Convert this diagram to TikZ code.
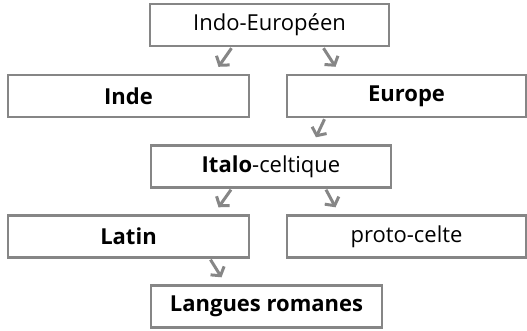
\documentclass[tikz,border=0pt]{standalone}
\usepackage{fontspec}
\setmainfont{Open Sans}
\usetikzlibrary{arrows.meta}

\begin{document}
\begin{tikzpicture}[x=1pt, y=-1pt,
		box/.style={draw=gray!95, line width=2.4pt, fill=white, minimum height=42pt, inner sep=0pt, font=\fontsize{22}{26}\selectfont},
		arr/.style={draw=gray!95, line width=3pt, -{Straight Barb[length=6pt, width=16pt]}}]
		\useasboundingbox (0,0) rectangle (527,331);
		
		\node [box, minimum width=239pt] (ie) at (269.5, 25) {Indo-Européen};
		\node [box, minimum width=241pt] (inde) at (128.5, 96) {\textbf{Inde}};
		\node [box, minimum width=239pt] (europe) at (406.5, 96) {\textbf{Europe}};
		\node [box, minimum width=240pt] (italo) at (271, 166.5) {\textbf{Italo}-celtique};
		\node [box, minimum width=241pt] (latin) at (128.5, 236.5) {\textbf{Latin}};
		\node [box, minimum width=239pt] (celte) at (406.5, 236.5) {proto-celte};
		\node [box, minimum width=231pt] (romanes) at (266.5, 306.5) {\textbf{Langues romanes}};
		
		\draw [arr] ([xshift=-38pt, yshift=-1pt]ie.south) -- ([xshift=90pt, yshift=7pt]inde.north);
		\draw [arr] ([xshift=54pt, yshift=-1pt]ie.south) -- ([xshift=-71pt, yshift=7pt]europe.north);
		\draw [arr] ([xshift=-82pt, yshift=-1pt]europe.south) -- ([xshift=45pt, yshift=7pt]italo.north);
		\draw [arr] ([xshift=-40pt, yshift=-1pt]italo.south) -- ([xshift=90pt, yshift=7pt]latin.north);
		\draw [arr] ([xshift=55pt, yshift=-1pt]italo.south) -- ([xshift=-71pt, yshift=7pt]celte.north);
		\draw [arr] ([xshift=82pt, yshift=-1pt]latin.south) -- ([xshift=-45pt, yshift=7pt]romanes.north);
	\end{tikzpicture}
\end{document}
